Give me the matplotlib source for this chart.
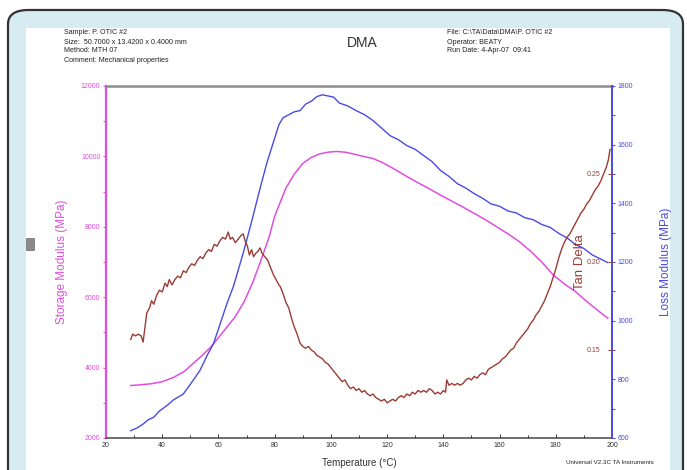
import matplotlib
matplotlib.use("Agg")
import matplotlib.pyplot as plt
from matplotlib.patches import FancyBboxPatch, Rectangle

plt.rcParams['font.family'] = ['Liberation Sans', 'DejaVu Sans']

# ---------------- data ----------------
temp_storage = [28.8, 32, 36, 40, 44, 48, 51, 54, 57, 60, 63, 66, 69, 72, 75, 78, 80, 82, 84, 87,
                90, 93, 96, 99, 102, 105, 108, 111, 115, 119, 123, 127, 131, 135, 139, 143, 147,
                151, 155, 159, 163, 167, 171, 175, 179, 183, 187, 191, 195, 198.5]
storage_modulus = [3490, 3510, 3540, 3600, 3720, 3900, 4120, 4330, 4560, 4850, 5150, 5450, 5850,
                   6380, 7020, 7700, 8300, 8700, 9100, 9500, 9800, 9970, 10070, 10120, 10140, 10120,
                   10070, 10010, 9940, 9800, 9620, 9430, 9250, 9080, 8900, 8730, 8560, 8380, 8200,
                   8000, 7800, 7580, 7310, 7000, 6640, 6380, 6160, 5880, 5620, 5400]

temp_loss = [28.8, 31, 33, 35, 37, 39, 41.6, 44, 47.5, 50, 53.4, 56, 58.2, 61, 63, 65.3, 68.8, 72,
             75, 77.2, 80, 81.5, 83, 85, 87, 89, 91, 93, 95, 97, 99, 101, 103, 106, 109, 112, 115,
             118, 121, 124, 127, 130, 133, 136, 139, 142, 145, 148, 151, 154, 157, 160, 163, 166,
             169, 172, 175, 178, 181, 184, 187, 190, 193, 196, 198.5]
loss_modulus = [625, 634, 646, 662, 671, 692, 710, 730, 750, 783, 830, 882, 921, 1000, 1058, 1116,
                1230, 1345, 1458, 1537, 1622, 1668, 1692, 1702, 1712, 1716, 1738, 1748, 1764, 1770,
                1766, 1762, 1742, 1732, 1716, 1702, 1682, 1657, 1631, 1617, 1597, 1584, 1563,
                1542, 1512, 1492, 1467, 1452, 1433, 1417, 1398, 1390, 1374, 1367, 1351, 1344,
                1328, 1318, 1298, 1282, 1260, 1246, 1224, 1210, 1198]

temp_tan = [28.8, 29.5, 30.5, 31.5, 32.5, 33.2, 33.8, 34.5, 35.5, 36.2, 37, 38, 39, 40, 41, 41.8,
            42.5, 43.5, 44.5, 45.5, 46.5, 47.5, 48.5, 49.5, 50.5, 51.5, 52.5, 53.5, 54.5, 55.5,
            56.5, 57.5, 58.5, 59.5, 60.5, 61.5, 62.5, 63.5, 64.2, 65, 66, 67, 68, 68.8, 69.5,
            70.3, 71, 71.8, 72.5, 73.3, 74, 74.8, 75.5, 76.5, 77.5, 78.5, 79.5, 80.5, 81.5, 82,
            83, 84, 85, 86, 87, 88, 89, 90, 91, 92, 93, 94, 95, 96, 97, 98, 99, 100, 101, 102,
            103, 104, 105, 106, 107, 108, 109, 110, 111, 112, 113, 114, 115, 116, 117, 118, 119,
            120, 121, 122, 123, 124, 125, 126, 127, 128, 129, 130, 131, 132, 133, 134, 135, 136,
            137, 138, 139, 140, 140.8, 141.2, 142, 143, 144, 145, 146, 147, 148, 149, 150, 151,
            152, 153, 154, 155, 156, 157, 158, 159, 160, 161, 162, 163, 164, 165, 166, 167, 168,
            169, 170, 171, 172, 173, 174, 175, 176, 177, 178, 179, 180, 181, 182, 183, 184, 185,
            186, 187, 188, 189, 190, 191, 192, 193, 194, 195, 196, 197, 198, 198.7, 199.3]
tan_delta = [0.156, 0.159, 0.158, 0.159, 0.158, 0.1545, 0.162, 0.171, 0.174, 0.178, 0.176, 0.181,
             0.184, 0.183, 0.188, 0.186, 0.190, 0.187, 0.190, 0.192, 0.191, 0.195, 0.194, 0.197,
             0.199, 0.198, 0.201, 0.203, 0.202, 0.205, 0.207, 0.206, 0.210, 0.209, 0.212, 0.214,
             0.213, 0.217, 0.213, 0.214, 0.211, 0.213, 0.215, 0.216, 0.212, 0.209, 0.204, 0.207,
             0.203, 0.205, 0.206, 0.208, 0.205, 0.203, 0.201, 0.197, 0.193, 0.190, 0.187, 0.186,
             0.182, 0.177, 0.174, 0.168, 0.163, 0.159, 0.154, 0.152, 0.151, 0.152, 0.150, 0.149,
             0.147, 0.146, 0.145, 0.143, 0.142, 0.140, 0.138, 0.136, 0.134, 0.132, 0.133, 0.130,
             0.128, 0.129, 0.127, 0.128, 0.126, 0.127, 0.125, 0.124, 0.125, 0.123, 0.122, 0.121,
             0.122, 0.120, 0.121, 0.122, 0.121, 0.123, 0.124, 0.123, 0.125, 0.124, 0.126, 0.125,
             0.127, 0.126, 0.127, 0.126, 0.128, 0.127, 0.125, 0.126, 0.125, 0.127, 0.126, 0.133,
             0.130, 0.131, 0.130, 0.131, 0.130, 0.131, 0.133, 0.134, 0.133, 0.135, 0.134, 0.136,
             0.137, 0.136, 0.139, 0.140, 0.141, 0.142, 0.143, 0.145, 0.146, 0.148, 0.150, 0.151,
             0.154, 0.156, 0.158, 0.160, 0.162, 0.165, 0.167, 0.170, 0.172, 0.175, 0.178, 0.182,
             0.186, 0.191, 0.196, 0.202, 0.207, 0.211, 0.214, 0.216, 0.219, 0.222, 0.225, 0.228,
             0.230, 0.233, 0.235, 0.238, 0.241, 0.243, 0.246, 0.250, 0.254, 0.258, 0.264]

x_ticks = [20, 40, 60, 80, 100, 120, 140, 160, 180, 200]
storage_ticks = [2000, 4000, 6000, 8000, 10000, 12000]
loss_ticks = [600, 800, 1000, 1200, 1400, 1600, 1800]
tan_ticks = [0.15, 0.20, 0.25]
tan_tick_labels = ['0.15', '0.20', '0.25']

header_left = ["Sample: P. OTIC #2", "Size:  50.7000 x 13.4200 x 0.4000 mm",
               "Method: MTH 07", "Comment: Mechanical properties"]
header_right = ["File: C:\\TA\\Data\\DMA\\P. OTIC #2", "Operator: BEATY",
                "Run Date: 4-Apr-07  09:41"]

# ---------------- figure ----------------
W, H = 687, 470
fig = plt.figure(figsize=(W / 100, H / 100), dpi=100)
fig.patch.set_facecolor('white')

def fx(px):
    return px / W

def fy(py):
    return 1 - py / H

# frame (light blue rounded card) and white image area
frame = FancyBboxPatch((fx(8), fy(490)), fx(675), (490 - 10) / H,
                       boxstyle="round,pad=0,rounding_size=0.03",
                       transform=fig.transFigure, facecolor='#d6ebf2',
                       edgecolor='#333333', linewidth=1.6, zorder=-3)
fig.patches.append(frame)
fig.patches.append(Rectangle((fx(26), 0), fx(670 - 26), fy(28), transform=fig.transFigure,
                             facecolor='white', edgecolor='none', zorder=-2))
fig.patches.append(Rectangle((fx(26), fy(250)), fx(8), 12 / H, transform=fig.transFigure,
                             facecolor='#8a8a8a', edgecolor='#6a6a6a', linewidth=0.5, zorder=-1))

PINK = '#e04ee0'
BLUE = '#4a4ae6'
BROWN = '#9c3b33'

ax = fig.add_axes([fx(106), fy(438), fx(612 - 106), (438 - 86) / H])
ax.set_facecolor('none')
ax2 = ax.twinx()
ax3 = ax.twinx()
for a in (ax2, ax3):
    a.set_facecolor('none')

ax.plot(temp_storage, storage_modulus, color=PINK, lw=1.1, zorder=3)
ax2.plot(temp_loss, loss_modulus, color=BLUE, lw=1.0, zorder=3)
ax3.plot(temp_tan, tan_delta, color=BROWN, lw=1.0, zorder=3)

ax.set_xlim(20, 200)
ax.set_ylim(2000, 12000)
ax2.set_ylim(600, 1800)
ax3.set_ylim(0.10, 0.30)

ax.set_xticks(x_ticks)
ax.set_xticks(range(30, 200, 20), minor=True)
ax.set_yticks(storage_ticks)
ax.set_yticks(range(3000, 12000, 2000), minor=True)
ax2.set_yticks(loss_ticks)
ax2.set_yticks(range(700, 1800, 200), minor=True)
ax3.set_yticks(tan_ticks)
ax3.set_yticklabels(tan_tick_labels)

ax.tick_params(axis='x', direction='in', length=3, width=0.7, labelsize=5, pad=3,
               colors='#333333')
ax.tick_params(axis='x', which='minor', direction='in', length=2, width=0.7, colors='#333333')
ax.tick_params(axis='y', which='both', direction='out', length=2.5, width=0.7, labelsize=5,
               colors=PINK, pad=1.5)
ax2.tick_params(axis='y', which='both', direction='out', length=2.5, width=0.7, labelsize=5,
                colors=BLUE, pad=1.5)
ax3.tick_params(axis='y', direction='in', length=3, width=0.7, labelsize=5, colors=BROWN,
                pad=-18)

for a in (ax, ax2, ax3):
    for s in a.spines.values():
        s.set_visible(False)
ax.spines['left'].set_visible(True)
ax.spines['left'].set_color(PINK)
ax.spines['left'].set_linewidth(1.6)
ax.spines['bottom'].set_visible(True)
ax.spines['bottom'].set_color('#555555')
ax.spines['bottom'].set_linewidth(1.2)
ax.spines['top'].set_visible(True)
ax.spines['top'].set_color('#8c8c8c')
ax.spines['top'].set_linewidth(1.8)
ax2.spines['right'].set_visible(True)
ax2.spines['right'].set_color(BLUE)
ax2.spines['right'].set_linewidth(1.4)

ax.set_xlabel('Temperature (°C)', fontsize=7, color='#333333', labelpad=6)
ax.set_ylabel('Storage Modulus (MPa)', fontsize=8.5, color=PINK, labelpad=9)
ax2.set_ylabel('Loss Modulus (MPa)', fontsize=8.5, color=BLUE, labelpad=19)
ax3.text(188.5, 0.200, 'Tan Delta', rotation=90, fontsize=9.5, color=BROWN,
         ha='center', va='center')

fig.text(fx(362), fy(43), 'DMA', fontsize=10, ha='center', va='center', color='#333333')
for i, line in enumerate(header_left):
    fig.text(fx(64), fy(33 + 9 * i), line, fontsize=5.1, ha='left', va='center', color='#222222')
for i, line in enumerate(header_right):
    fig.text(fx(447), fy(33 + 9 * i), line, fontsize=5.1, ha='left', va='center', color='#222222')
fig.text(fx(610), fy(462), 'Universal V2.3C TA Instruments', fontsize=4.5, ha='center',
         va='center', color='#222222')

fig.savefig('out.png', dpi=100)
